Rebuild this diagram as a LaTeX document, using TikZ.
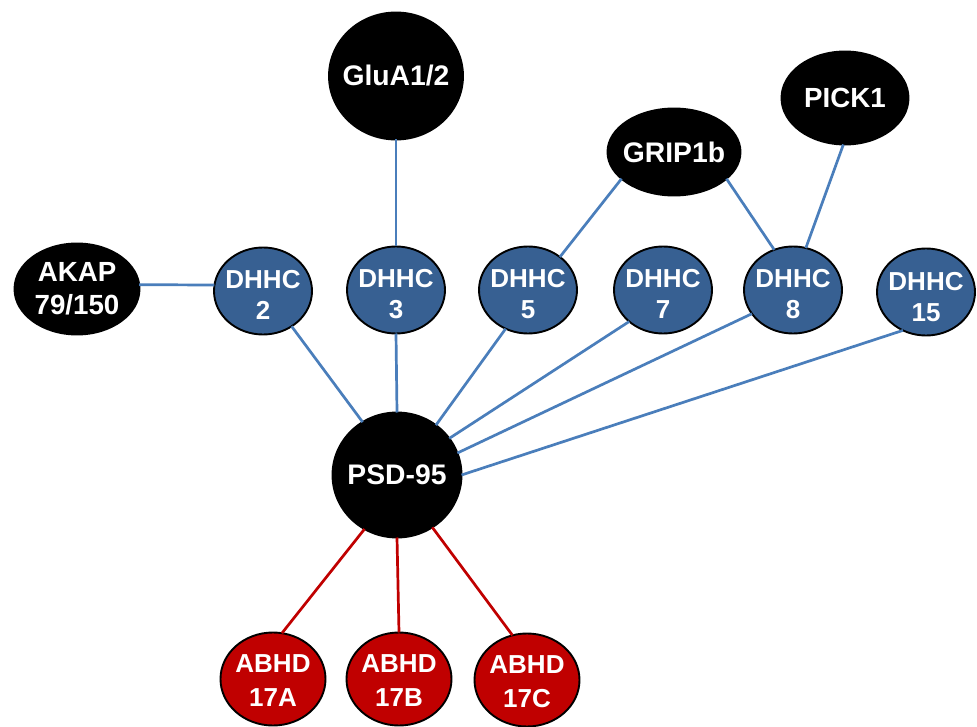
\documentclass[tikz,border=0pt]{standalone}
\usepackage{fontspec}
\setmainfont{Liberation Sans}
\usetikzlibrary{shapes.geometric}
\definecolor{nodeblue}{HTML}{376092}
\definecolor{lineblue}{HTML}{4A7EBB}
\definecolor{darkred}{HTML}{C00000}
\begin{document}
\begin{tikzpicture}[x=1pt,y=-1pt,
  base/.style={ellipse, draw=black, line width=1.9pt, inner sep=0pt, outer sep=0pt},
  blk/.style={base, fill=black},
  dh/.style={base, fill=nodeblue, minimum width=98pt, minimum height=87pt},
  ab/.style={base, fill=darkred, minimum width=105pt, minimum height=93pt},
  txt/.style={text=white, align=center, inner sep=0pt, font=\fontsize{26}{31}\selectfont\bfseries},
  txtbig/.style={txt, font=\fontsize{28.3}{33}\selectfont\bfseries},
  txtab/.style={txt, font=\fontsize{26}{34}\selectfont\bfseries},
  bl/.style={draw=lineblue, line width=2.7pt},
  rd/.style={draw=darkred, line width=2.7pt}]
\useasboundingbox (0,0) rectangle (977,727);
% top black nodes
\node[blk, minimum width=134pt, minimum height=127pt, label={[txtbig]center:GluA1/2}] (glua) at (396,76) {};
\node[blk, minimum width=125pt, minimum height=91pt, label={[txtbig, font=\fontsize{27.7}{33}\selectfont\bfseries]center:AKAP\\79/150}] (akap) at (77,289) {};
\node[blk, minimum width=133pt, minimum height=87pt, label={[txtbig]center:GRIP1b}] (grip) at (674,152) {};
\node[blk, minimum width=127pt, minimum height=93pt, label={[txtbig, font=\fontsize{27.7}{33}\selectfont\bfseries]center:PICK1}] (pick) at (845,98) {};
% DHHC nodes
\node[dh, label={[txt, yshift=-4pt]center:DHHC\\2}] (d2) at (263,291) {};
\node[dh, label={[txt, yshift=-4pt]center:DHHC\\3}] (d3) at (396,290) {};
\node[dh, label={[txt, yshift=-4pt]center:DHHC\\5}] (d5) at (528,290) {};
\node[dh, label={[txt, yshift=-4pt]center:DHHC\\7}] (d7) at (663,290) {};
\node[dh, label={[txt, yshift=-4pt]center:DHHC\\8}] (d8) at (793,290) {};
\node[dh, label={[txt, yshift=-5pt]center:DHHC\\15}] (d15) at (926,292) {};
% PSD-95
\node[blk, minimum width=129pt, minimum height=125pt, label={[txtbig]center:PSD-95}] (psd) at (397,475) {};
% ABHD nodes
\node[ab, label={[txtab, yshift=-2pt]center:ABHD\\17A}] (a) at (273,679) {};
\node[ab, label={[txtab, yshift=-2pt]center:ABHD\\17B}] (b) at (399,679) {};
\node[ab, label={[txtab, yshift=-2pt]center:ABHD\\17C}] (c) at (527,680) {};
% connectors
\draw[bl] (akap.4) -- (d2.173);
\draw[bl] (glua.south) -- (d3.north);
\draw[bl] (grip.-153) -- (d5.46);
\draw[bl] (grip.-27) -- (d8.115);
\draw[bl] (pick.-92) -- (d8.73);
\draw[bl] (d2.-51) -- (psd.123);
\draw[bl] (d3.south) -- (psd.north);
\draw[bl] (d5.-120) -- (psd.52);
\draw[bl] (d7.-137) -- (psd.35);
\draw[bl] (d8.-150) -- (psd.20);
\draw[bl] (d15.-121) -- (psd.0);
\draw[rd] (psd.-121) -- (a.79);
\draw[rd] (psd.south) -- (b.north);
\draw[rd] (psd.-56) -- (c.108);
\end{tikzpicture}
\end{document}
